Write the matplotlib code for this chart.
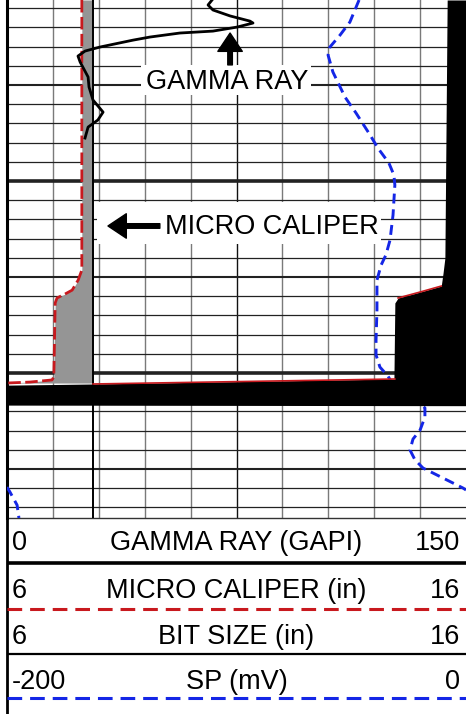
import matplotlib
matplotlib.use("Agg")
import matplotlib.pyplot as plt
from matplotlib.patches import Rectangle, ArrowStyle

plt.rcParams['font.family'] = ['Liberation Sans', 'DejaVu Sans']

# Depth window (one unit = one grid division)
depth_top = 0.57
depth_bottom = 27.55

# Gamma ray (GAPI)
gr_depth = [0.57, 0.83, 1.09, 1.40, 1.67, 1.77, 1.98, 2.19, 2.29, 2.50, 2.66, 3.02, 3.23,
            3.49, 3.80, 4.58, 5.10, 5.78, 6.41, 6.82, 7.19, 7.76]
gr = [67.0, 65.7, 67.3, 72.9, 79.4, 80.4, 75.2, 67.3, 56.5, 46.7, 41.2, 30.4, 25.5,
      23.2, 23.9, 26.5, 26.8, 28.1, 31.4, 29.7, 26.5, 25.5]

# Micro caliper (in)
cal_depth = [0.57, 14.64, 15.16, 15.68, 15.89, 16.09, 16.35, 20.21, 20.36, 20.47, 20.52]
cal = [7.63, 7.63, 7.55, 7.42, 7.26, 7.09, 7.05, 7.02, 6.98, 6.50, 6.00]

# Bit size (in)
bit_depth = [0.57, 27.55]
bit = [7.875, 7.875]

# Washed-out hole (caliper off scale), shaded black to the right edge
wash_depth = [0.57, 14.01, 14.79, 15.47, 15.78, 16.09, 16.35, 20.26, 20.31, 20.57, 20.63, 21.67, 21.70]
wash = [15.59, 15.54, 15.50, 15.46, 15.00, 14.52, 14.45, 14.43, 14.45, 7.875, 6.00, 6.00, 16.0]

# SP (mV), plus the part that wraps back in from the left
sp_depth = [0.57, 1.09, 1.72, 2.40, 3.02, 3.44, 4.32, 5.63, 6.46, 7.60, 8.28, 9.06, 9.69,
            10.21, 11.77, 13.07, 13.85, 14.38, 15.16, 16.72, 18.28, 19.06, 19.69, 20.16,
            20.52, 21.15, 21.82, 22.29, 22.97, 23.44, 24.01, 24.53, 24.95, 25.47, 25.99, 26.09]
sp = [-46.6, -48.4, -50.6, -54.9, -59.3, -60.1, -58.0, -52.7, -47.9, -41.8, -38.4, -33.6, -31.4,
      -31.0, -31.8, -33.1, -34.9, -37.0, -38.8, -38.8, -39.2, -39.2, -37.5, -34.0,
      -32.2, -24.4, -17.9, -17.9, -20.0, -23.1, -24.4, -22.2, -18.7, -10.0, -1.3, 0.0]
sp_wrap_depth = [25.94, 26.20, 26.88, 27.55]
sp_wrap = [-200.0, -198.7, -195.6, -194.8]

# Header rows
leg_names = ['GAMMA RAY (GAPI)', 'MICRO CALIPER (in)', 'BIT SIZE (in)', 'SP (mV)']
leg_min = ['0', '6', '6', '-200']
leg_max = ['150', '16', '16', '0']

red = '#c8191e'
blue = '#1426e6'
fs = 19.5

W, H = 466, 714
fig = plt.figure(figsize=(W / 100, H / 100), dpi=100)

# Track with the grid
ax = fig.add_axes([7 / W, 196 / H, 459 / W, 518 / H])
ax.set_xlim(0, 10)
ax.set_ylim(depth_bottom, depth_top)
ax.set_xticks([])
ax.set_yticks([])
for s in ['top', 'right']:
    ax.spines[s].set_visible(False)
ax.spines['left'].set_linewidth(2.2)
ax.spines['bottom'].set_linewidth(1.0)
ax.spines['bottom'].set_color('#333333')

for k in range(1, 10):
    ax.axvline(k, color='#111111' if k == 5 else '#7a7a7a', lw=1.0, zorder=1)
for d in range(1, 28):
    if d % 10 == 0:
        lw = 2.6
    elif d % 5 == 0:
        lw = 1.5
    else:
        lw = 0.9
    ax.axhline(d, color='#222222', lw=lw, zorder=1)


def twin(lims):
    t = ax.twiny()
    t.set_xlim(lims)
    t.axis('off')
    return t


ax_sp = twin((-200, 0))
ax_cal = twin((6, 16))
ax_gr = twin((0, 150))
ax_lab = twin((0, 10))

# SP
ax_sp.plot(sp, sp_depth, color=blue, lw=2.1, ls=(0, (3.4, 2.0)))
ax_sp.plot(sp_wrap, sp_wrap_depth, color=blue, lw=2.1, ls=(0, (3.4, 2.0)))

# Caliper / bit size
ax_cal.fill_betweenx(cal_depth, cal, bit[0], color='#959595', lw=0, zorder=1)
ax_cal.fill_betweenx(wash_depth, wash, 16, color='black', lw=0, zorder=2)
ax_cal.plot(bit, bit_depth, color='black', lw=1.4, zorder=3)
ax_cal.plot(cal, cal_depth, color=red, lw=2.0, ls=(0, (4.5, 1.6)), zorder=4)
ax_cal.plot(wash[3:6], wash_depth[3:6], color=red, lw=1.2, zorder=5)
ax_cal.plot(wash[8:10], wash_depth[8:10], color=red, lw=1.2, zorder=5)

# Gamma ray
ax_gr.plot(gr, gr_depth, color='black', lw=2.0)

# Curve labels
arrow = ArrowStyle('Simple', head_length=0.6, head_width=0.8, tail_width=0.15)
ax_lab.add_patch(Rectangle((2.92, 3.95), 3.70, 1.55, facecolor='white', edgecolor='none', zorder=5))
ax_lab.text(4.80, 5.21, 'GAMMA RAY', fontsize=fs, ha='center', va='baseline', zorder=6)
ax_lab.annotate('', xy=(4.86, 2.29), xytext=(4.86, 3.95),
                arrowprops=dict(arrowstyle=arrow, color='black', mutation_scale=22,
                                shrinkA=0, shrinkB=0), zorder=6)

ax_lab.add_patch(Rectangle((1.96, 11.09), 6.19, 2.19, facecolor='white', edgecolor='none', zorder=5))
ax_lab.text(5.78, 12.76, 'MICRO CALIPER', fontsize=fs, ha='center', va='baseline', zorder=6)
ax_lab.annotate('', xy=(2.20, 12.34), xytext=(3.33, 12.34),
                arrowprops=dict(arrowstyle=arrow, color='black', mutation_scale=22,
                                shrinkA=0, shrinkB=0), zorder=6)

# Header
axl = fig.add_axes([7 / W, 0, 459 / W, 196 / H])
axl.set_xlim(0, 1)
axl.set_ylim(196, 0)
axl.axis('off')
axl.axvline(0, color='black', lw=2.0, clip_on=False)

text_y = [32, 80, 126, 171]
line_y = [45, 91, 136, 180]
line_col = ['black', red, 'black', blue]
line_ls = ['-', (0, (4.8, 2.6)), '-', (0, (4.8, 2.6))]
line_lw = [2.6, 2.2, 1.6, 2.2]
for i in range(4):
    axl.text(0.011, text_y[i], leg_min[i], fontsize=fs, ha='left', va='baseline')
    axl.text(0.5, text_y[i], leg_names[i], fontsize=fs, ha='center', va='baseline')
    axl.text(0.987, text_y[i], leg_max[i], fontsize=fs, ha='right', va='baseline')
    axl.plot([0, 1], [line_y[i], line_y[i]], color=line_col[i], ls=line_ls[i], lw=line_lw[i])

plt.savefig('out.png', dpi=100)
